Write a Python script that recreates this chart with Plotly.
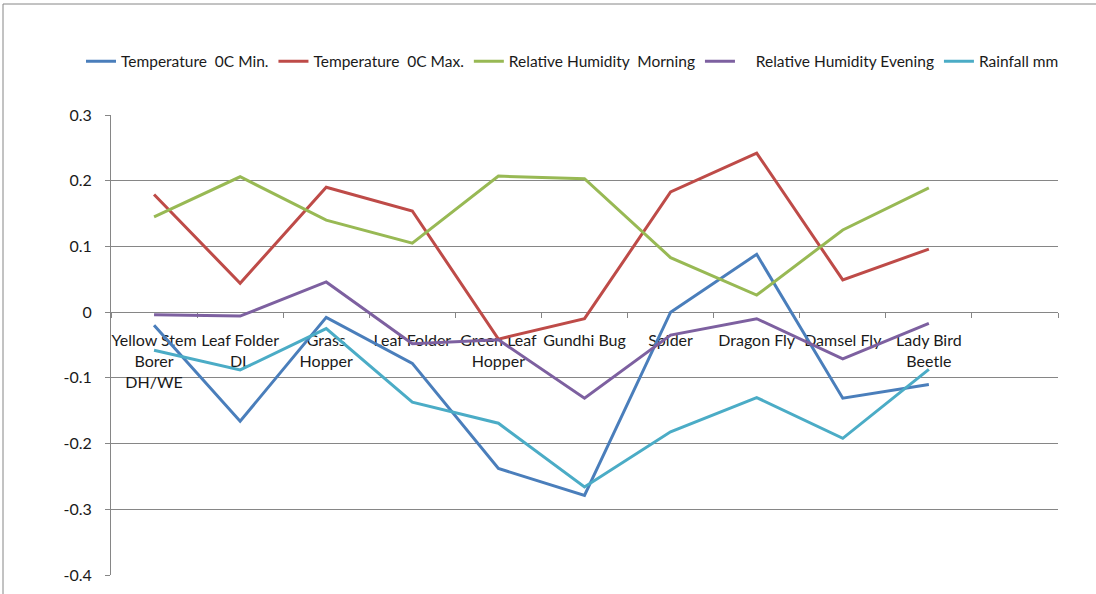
import plotly.graph_objects as go

categories = ["Yellow Stem<br>Borer<br>DH/WE", "Leaf Folder<br>DL", "Grass<br>Hopper", "Leaf Folder",
              "Green Leaf<br>Hopper", "Gundhi Bug", "Spider", "Dragon Fly", "Damsel Fly",
              "Lady Bird<br>Beetle"]
all_slots = categories + [" "]

temp_min = [-0.020, -0.166, -0.008, -0.078, -0.238, -0.279, 0.000, 0.088, -0.131, -0.110]
temp_max = [0.179, 0.044, 0.190, 0.154, -0.041, -0.010, 0.183, 0.242, 0.049, 0.096]
rh_morning = [0.145, 0.206, 0.140, 0.105, 0.207, 0.203, 0.083, 0.026, 0.125, 0.189]
rh_evening = [-0.004, -0.006, 0.046, -0.048, -0.042, -0.131, -0.035, -0.010, -0.071, -0.017]
rainfall = [-0.058, -0.088, -0.025, -0.137, -0.169, -0.266, -0.182, -0.130, -0.192, -0.087]

series = [
    ("Temperature\u00a0 0C Min.", temp_min, "#4A7EBB"),
    ("Temperature\u00a0 0C Max.", temp_max, "#BE4B48"),
    ("Relative Humidity\u00a0 Morning", rh_morning, "#98B954"),
    ("\u00a0\u00a0\u00a0 Relative Humidity Evening", rh_evening, "#7D60A0"),
    ("Rainfall mm", rainfall, "#4BACC6"),
]

ytick_vals = [-0.4, -0.3, -0.2, -0.1, 0, 0.1, 0.2, 0.3]
ytick_text = ["-0.4", "-0.3", "-0.2", "-0.1", "0", "0.1", "0.2", "0.3"]

fig = go.Figure()
for name, vals, color in series:
    fig.add_trace(go.Scatter(x=categories, y=vals, name=name, mode="lines",
                             line=dict(color=color, width=3)))

FONT = "Lato"
TXT = "#1a1a1a"
fig.update_layout(
    width=1096, height=594,
    margin=dict(l=111, r=38, t=115, b=19),
    paper_bgcolor="white", plot_bgcolor="white",
    font=dict(family=FONT, size=16, color=TXT),
    showlegend=True,
    legend=dict(orientation="h", x=(81 - 111) / 947, y=1.153, xanchor="left", yanchor="top",
                font=dict(size=15.5, family=FONT, color=TXT), itemwidth=30,
                bgcolor="rgba(0,0,0,0)"),
    xaxis=dict(type="category", categoryorder="array", categoryarray=all_slots,
               range=[-0.5, 10.5], anchor="free", position=(0 - (-0.4)) / 0.7,
               showline=True, linecolor="#868686", linewidth=1,
               ticks="outside", tickson="boundaries", ticklen=5, tickcolor="#868686",
               showgrid=False, layer="below traces", ticklabelstandoff=14, tickangle=0,
               automargin=False, tickfont=dict(size=16, family=FONT, color=TXT)),
    yaxis=dict(range=[-0.4, 0.3], tickvals=ytick_vals, ticktext=ytick_text,
               showgrid=True, gridcolor="#868686", gridwidth=1,
               showline=True, linecolor="#868686", linewidth=1,
               ticks="outside", ticklen=5, tickcolor="#868686", ticklabelstandoff=10,
               zeroline=False, automargin=False, tickfont=dict(size=16, family=FONT, color=TXT)),
    shapes=[dict(type="rect", xref="paper", yref="paper",
                 x0=(3 - 111) / 947, x1=1.2, y0=-0.5, y1=(575 - 4) / 460,
                 line=dict(color="#868686", width=1), fillcolor="rgba(0,0,0,0)", layer="below")],
)

fig.write_html("out.html", config={"displayModeBar": False},
               post_script="document.body.style.margin='0';document.body.style.overflow='hidden';")
